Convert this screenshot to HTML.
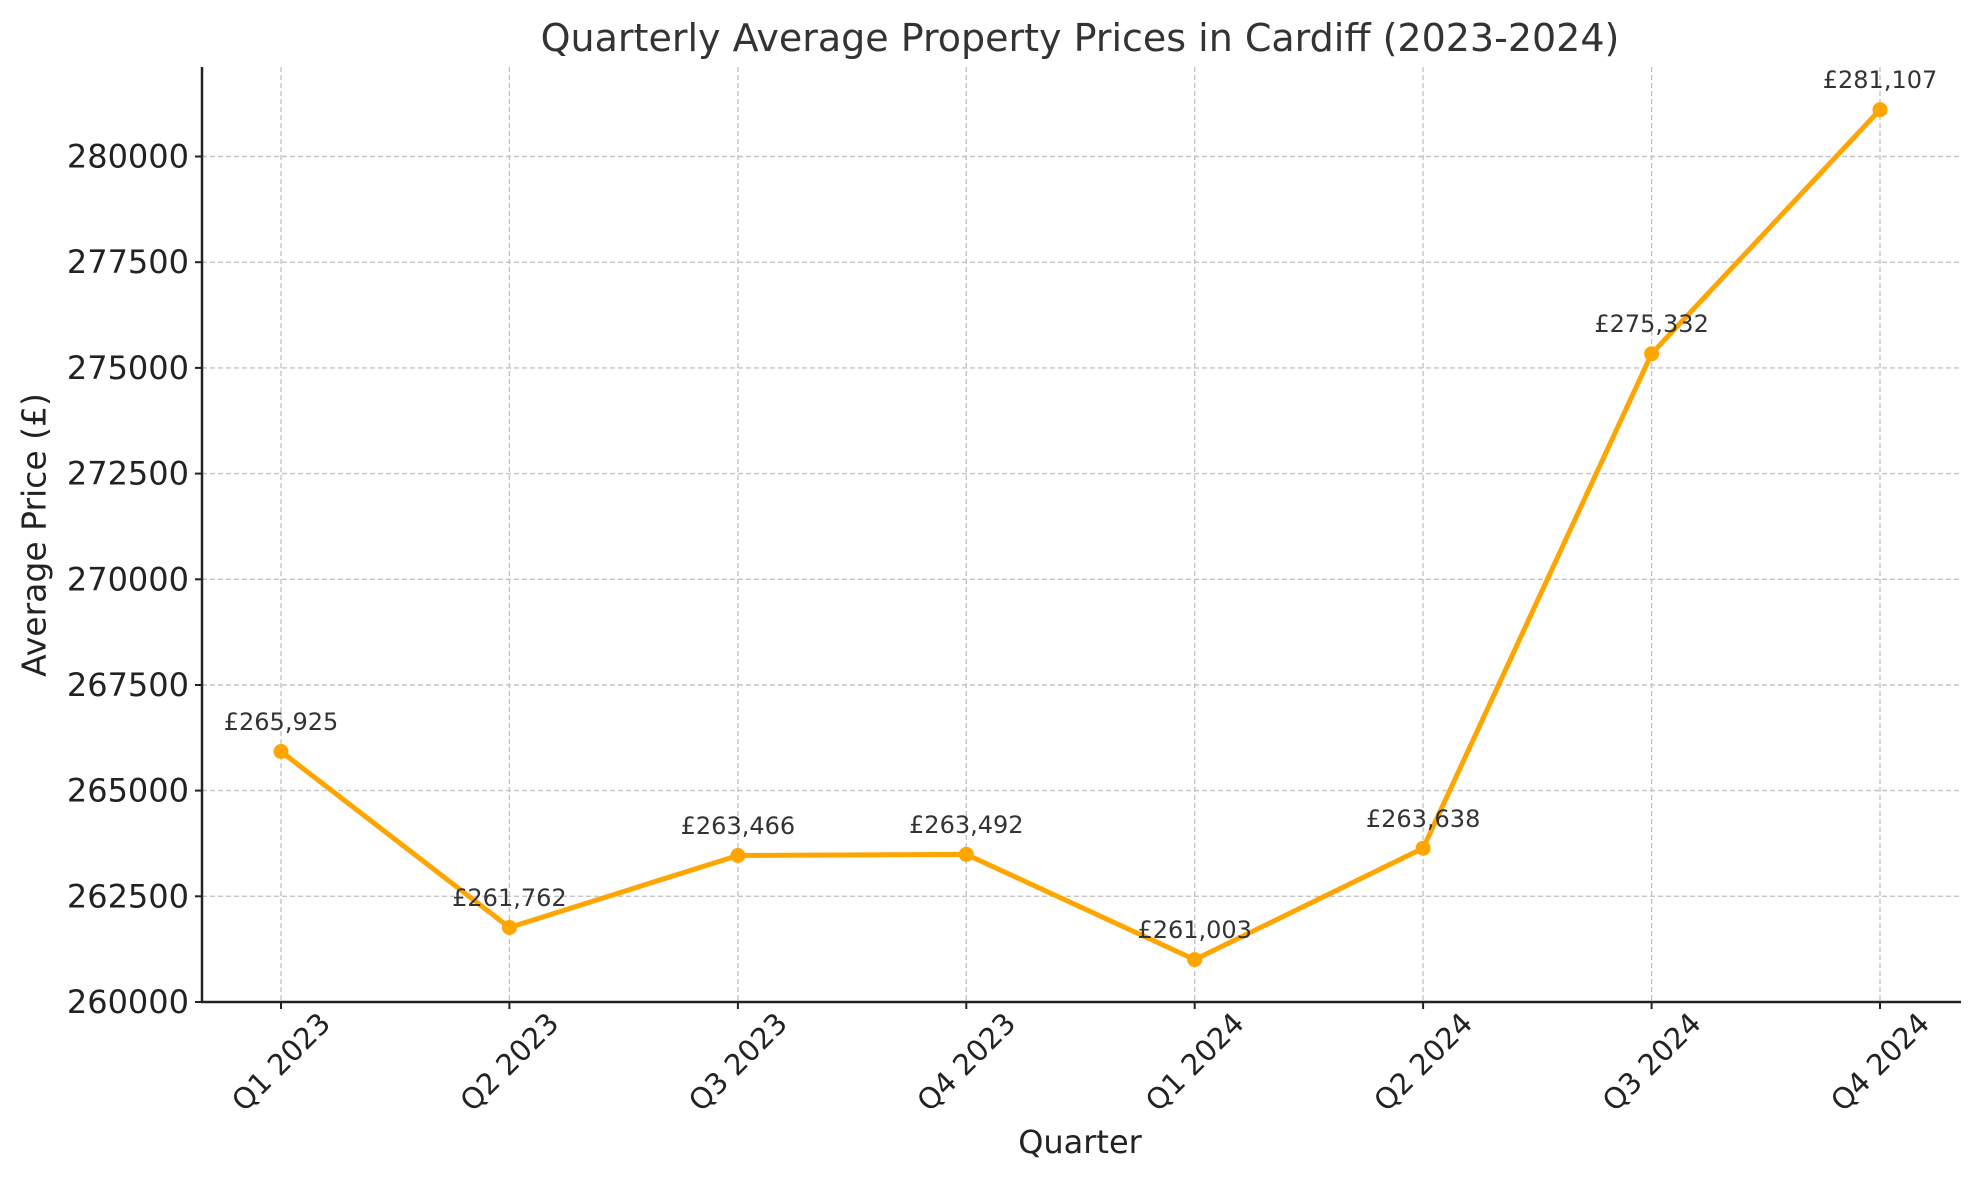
<!DOCTYPE html>
<html><head><meta charset="utf-8"><style>body{margin:0;background:#fff}svg{display:block}</style></head>
<body>
<svg width="1979" height="1180" viewBox="0 0 1979 1180" xmlns="http://www.w3.org/2000/svg" font-family="'DejaVu Sans','Liberation Sans',sans-serif">
<g stroke="#c4c4c4" stroke-width="1.4" stroke-dasharray="5,3">
<line x1="281" y1="67" x2="281" y2="1002"/><line x1="509.4" y1="67" x2="509.4" y2="1002"/><line x1="737.9" y1="67" x2="737.9" y2="1002"/><line x1="966.3" y1="67" x2="966.3" y2="1002"/><line x1="1194.7" y1="67" x2="1194.7" y2="1002"/><line x1="1423.1" y1="67" x2="1423.1" y2="1002"/><line x1="1651.6" y1="67" x2="1651.6" y2="1002"/><line x1="1880" y1="67" x2="1880" y2="1002"/>
<line x1="202" y1="156.5" x2="1961" y2="156.5"/><line x1="202" y1="262.2" x2="1961" y2="262.2"/><line x1="202" y1="367.9" x2="1961" y2="367.9"/><line x1="202" y1="473.6" x2="1961" y2="473.6"/><line x1="202" y1="579.3" x2="1961" y2="579.3"/><line x1="202" y1="685" x2="1961" y2="685"/><line x1="202" y1="790.6" x2="1961" y2="790.6"/><line x1="202" y1="896.3" x2="1961" y2="896.3"/>
</g>
<g stroke="#222" stroke-width="2.5">
<line x1="202" y1="67" x2="202" y2="1003"/><line x1="201" y1="1002" x2="1961" y2="1002"/>
</g>
<g stroke="#222" stroke-width="2">
<line x1="195" y1="156.5" x2="202" y2="156.5"/><line x1="195" y1="262.2" x2="202" y2="262.2"/><line x1="195" y1="367.9" x2="202" y2="367.9"/><line x1="195" y1="473.6" x2="202" y2="473.6"/><line x1="195" y1="579.3" x2="202" y2="579.3"/><line x1="195" y1="685" x2="202" y2="685"/><line x1="195" y1="790.6" x2="202" y2="790.6"/><line x1="195" y1="896.3" x2="202" y2="896.3"/><line x1="195" y1="1002" x2="202" y2="1002"/>
<line x1="281" y1="1002" x2="281" y2="1009"/><line x1="509.4" y1="1002" x2="509.4" y2="1009"/><line x1="737.9" y1="1002" x2="737.9" y2="1009"/><line x1="966.3" y1="1002" x2="966.3" y2="1009"/><line x1="1194.7" y1="1002" x2="1194.7" y2="1009"/><line x1="1423.1" y1="1002" x2="1423.1" y2="1009"/><line x1="1651.6" y1="1002" x2="1651.6" y2="1009"/><line x1="1880" y1="1002" x2="1880" y2="1009"/>
</g>
<g font-size="32" fill="#222" text-anchor="end" dominant-baseline="central">
<text x="189" y="156.5">280000</text><text x="189" y="262.2">277500</text><text x="189" y="367.9">275000</text><text x="189" y="473.6">272500</text><text x="189" y="579.3">270000</text><text x="189" y="685">267500</text><text x="189" y="790.6">265000</text><text x="189" y="896.3">262500</text><text x="189" y="1002">260000</text>
</g>
<g font-size="29" fill="#222" text-anchor="middle" dominant-baseline="central">
<text transform="translate(281,1062) rotate(-45)">Q1 2023</text>
<text transform="translate(509.4,1062) rotate(-45)">Q2 2023</text>
<text transform="translate(737.9,1062) rotate(-45)">Q3 2023</text>
<text transform="translate(966.3,1062) rotate(-45)">Q4 2023</text>
<text transform="translate(1194.7,1062) rotate(-45)">Q1 2024</text>
<text transform="translate(1423.1,1062) rotate(-45)">Q2 2024</text>
<text transform="translate(1651.6,1062) rotate(-45)">Q3 2024</text>
<text transform="translate(1880,1062) rotate(-45)">Q4 2024</text>
</g>
<polyline fill="none" stroke="#FFA500" stroke-width="5" stroke-linejoin="round" points="281,751.5 509.4,927.5 737.9,855.5 966.3,854.4 1194.7,959.6 1423.1,848.2 1651.6,353.8 1880,109.7"/>
<g fill="#FFA500">
<circle cx="281" cy="751.5" r="7.5"/><circle cx="509.4" cy="927.5" r="7.5"/><circle cx="737.9" cy="855.5" r="7.5"/><circle cx="966.3" cy="854.4" r="7.5"/><circle cx="1194.7" cy="959.6" r="7.5"/><circle cx="1423.1" cy="848.2" r="7.5"/><circle cx="1651.6" cy="353.8" r="7.5"/><circle cx="1880" cy="109.7" r="7.5"/>
</g>
<g font-size="24" fill="#333" text-anchor="middle">
<text x="281" y="730">£265,925</text><text x="509.4" y="906">£261,762</text><text x="737.9" y="834">£263,466</text><text x="966.3" y="833">£263,492</text><text x="1194.7" y="938">£261,003</text><text x="1423.1" y="827">£263,638</text><text x="1651.6" y="332">£275,332</text><text x="1880" y="88">£281,107</text>
</g>
<text x="1080" y="38" font-size="38" fill="#333" text-anchor="middle" dominant-baseline="central">Quarterly Average Property Prices in Cardiff (2023-2024)</text>
<text x="1080" y="1142" font-size="32" fill="#222" text-anchor="middle" dominant-baseline="central">Quarter</text>
<text transform="translate(34,535) rotate(-90)" font-size="33" fill="#222" text-anchor="middle" dominant-baseline="central">Average Price (£)</text>
</svg>
</body></html>
